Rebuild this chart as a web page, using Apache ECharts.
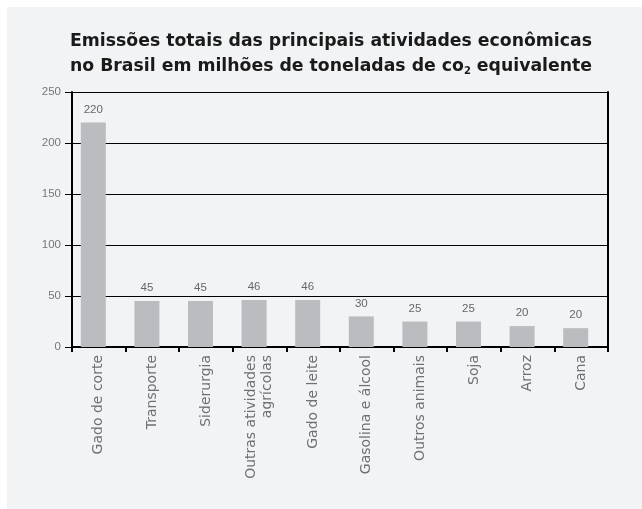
<!DOCTYPE html>
<html><head><meta charset="utf-8">
<script src="https://cdn.jsdelivr.net/npm/echarts@6/dist/echarts.min.js"></script>
<style>html,body{margin:0;padding:0;background:#fff}#c{width:642px;height:509px}</style>
</head><body><div id="c"></div>
<script>
const categories = ['Gado de corte','Transporte','Siderurgia','Outras atividades\nagrícolas','Gado de leite','Gasolina e álcool','Outros animais','Soja','Arroz','Cana'];
const values = [220, 45, 45, 46, 46, 30, 25, 25, 20.5, 18.5];
const valueLabels = ['220','45','45','46','46','30','25','25','20','20'];
const yTicks = [0, 50, 100, 150, 200, 250];

const chart = echarts.init(document.getElementById('c'));
const TF = 'DejaVu Sans, Verdana, sans-serif';
chart.setOption({
  animation: false,
  textStyle: {fontFamily: 'Liberation Sans, Arial, sans-serif'},
  graphic: [{type:'rect', shape:{x:7,y:7,width:635,height:502}, style:{fill:'#f2f3f5'}, z:-10}],
  title: {
    left: 326, top: 24, textAlign: 'center',
    text: '{b|Emissões totais das principais atividades econômicas}\n{b|no Brasil em milhões de toneladas de co}{s|2}{b| equivalente}',
    textStyle: {
      rich: {
        b: {fontSize: 17.3, fontWeight: 'bold', color: '#1a1a1a', lineHeight: 25, fontFamily: TF},
        s: {fontSize: 10, fontWeight: 'bold', color: '#1a1a1a', lineHeight: 25, padding: [9,0,0,0], fontFamily: TF}
      }
    }
  },
  grid: {left: 72, right: 34, top: 92, bottom: 162},
  xAxis: {
    type: 'category', data: categories,
    axisLine: {lineStyle: {color: '#000', width: 2}},
    axisTick: {show: true, length: 5, lineStyle: {color: '#000', width: 2}},
    axisLabel: {rotate: 90, color: '#707070', fontSize: 14, margin: 8, lineHeight: 16, interval: 0, fontFamily: TF}
  },
  yAxis: [{
    type: 'value', min: 0, max: 250, interval: 50,
    axisLine: {show: true, lineStyle: {color: '#000', width: 2}},
    axisTick: {show: true, length: 7, lineStyle: {color: '#000', width: 1}},
    axisLabel: {color: '#777', fontSize: 11.5, margin: 11, formatter: v => yTicks.includes(v) ? String(v) : ''},
    splitLine: {show: true, lineStyle: {color: '#000', width: 1}}
  },{
    type: 'value', min: 0, max: 250, interval: 50, position: 'right',
    axisLine: {show: true, lineStyle: {color: '#000', width: 2}},
    axisTick: {show: false}, axisLabel: {show: false}, splitLine: {show: false}
  }],
  series: [{
    type: 'bar', data: values, barWidth: 25, barGap: '0%',
    itemStyle: {color: '#bbbcc0'},
    label: {show: true, position: 'top', distance: 7, color: '#666', fontSize: 11.5,
      formatter: p => valueLabels[p.dataIndex]}
  },{
    type: 'bar', data: categories.map(() => null), barWidth: 11, silent: true,
    itemStyle: {color: 'transparent'}
  }]
});
</script></body></html>
